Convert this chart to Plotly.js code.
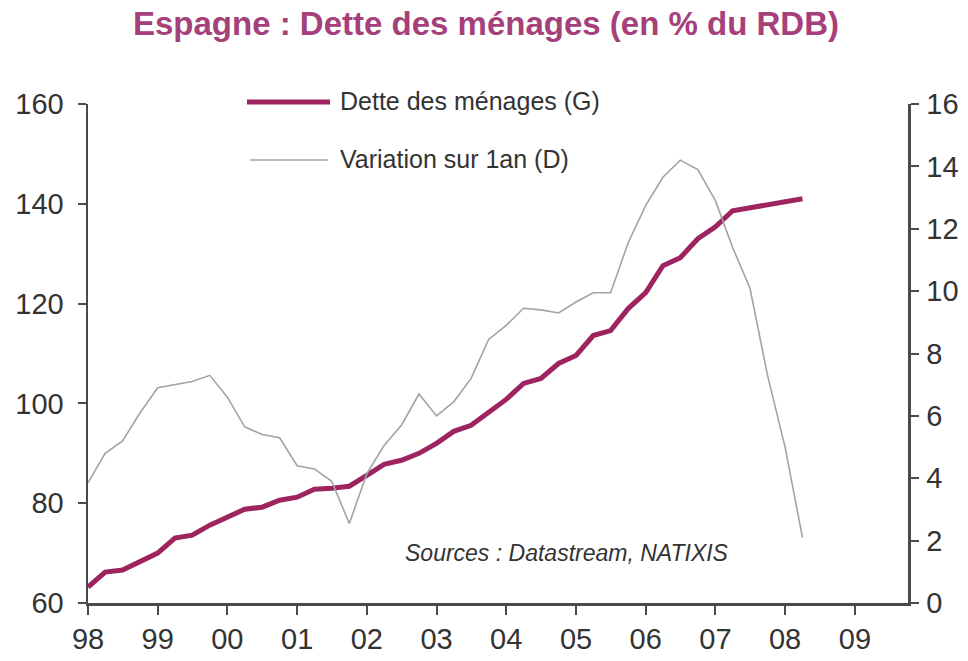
<!DOCTYPE html>
<html>
<head>
<meta charset="utf-8">
<script src="https://cdn.plot.ly/plotly-3.0.1.min.js"></script>
<style>
html,body{margin:0;padding:0;background:#fff;}
#chart{width:968px;height:661px;}
</style>
</head>
<body>
<div id="chart"></div>
<script>
// Quarterly dates 1998Q1 .. 2008Q2
const quarters = [
  "1998-01-01","1998-04-01","1998-07-01","1998-10-01",
  "1999-01-01","1999-04-01","1999-07-01","1999-10-01",
  "2000-01-01","2000-04-01","2000-07-01","2000-10-01",
  "2001-01-01","2001-04-01","2001-07-01","2001-10-01",
  "2002-01-01","2002-04-01","2002-07-01","2002-10-01",
  "2003-01-01","2003-04-01","2003-07-01","2003-10-01",
  "2004-01-01","2004-04-01","2004-07-01","2004-10-01",
  "2005-01-01","2005-04-01","2005-07-01","2005-10-01",
  "2006-01-01","2006-04-01","2006-07-01","2006-10-01",
  "2007-01-01","2007-04-01","2007-07-01","2007-10-01",
  "2008-01-01","2008-04-01"
];

// Dette des ménages, % du RDB (axe gauche)
const detteMenages = [
  63.2, 66.2, 66.6, 68.2,
  70.0, 73.0, 73.6, 75.6,
  77.2, 78.8, 79.2, 80.6,
  81.2, 82.8, 83.0, 83.4,
  85.6, 87.8, 88.6, 90.0,
  92.0, 94.4, 95.6, 98.2,
  100.8, 104.0, 105.0, 108.0,
  109.6, 113.6, 114.6, 119.0,
  122.2, 127.6, 129.2, 133.0,
  135.4, 138.6, 139.2, 139.8,
  140.4, 141.0
];

// Variation sur 1 an (axe droit)
const variation1an = [
  3.85, 4.8, 5.2, 6.1,
  6.9, 7.0, 7.1, 7.3,
  6.6, 5.65, 5.4, 5.3,
  4.4, 4.3, 3.9, 2.55,
  4.15, 5.05, 5.7, 6.7,
  6.0, 6.45, 7.2, 8.45,
  8.9, 9.45, 9.4, 9.3,
  9.65, 9.95, 9.95, 11.55,
  12.75, 13.65, 14.2, 13.9,
  12.9, 11.4, 10.1, 7.3,
  5.0, 2.1
];

const seriesNames = ["Dette des ménages (G)", "Variation sur 1an (D)"];
const titleText = "Espagne : Dette des ménages (en % du RDB)";
const sourceText = "Sources : Datastream, NATIXIS";

const debtColor = "#9E245F";
const varColor = "#A3A3A3";
const axisColor = "#4a4a4a";
const textColor = "#333333";
const fontFam = "Liberation Sans, Arial, sans-serif";

const traces = [
  {
    x: quarters, y: variation1an, name: seriesNames[1], yaxis: "y2",
    type: "scatter", mode: "lines",
    line: {color: varColor, width: 1.6},
    showlegend: false, hoverinfo: "x+y"
  },
  {
    x: quarters, y: detteMenages, name: seriesNames[0], yaxis: "y",
    type: "scatter", mode: "lines",
    line: {color: debtColor, width: 5},
    showlegend: false, hoverinfo: "x+y"
  }
];

const tickFont = {family: fontFam, size: 29, color: textColor};

const layout = {
  width: 968, height: 661,
  paper_bgcolor: "#ffffff", plot_bgcolor: "#ffffff",
  margin: {l: 88, r: 60, t: 104, b: 58},
  showlegend: false,
  title: {
    text: "<b>" + titleText + "</b>",
    font: {family: fontFam, size: 33, color: "#A6407A"},
    x: 486/968, xanchor: "center", xref: "container",
    y: 1 - 23/661, yanchor: "middle", yref: "container"
  },
  xaxis: {
    type: "date",
    range: ["1998-01-01", "2009-10-06"],
    tick0: "1998-01-01", dtick: "M12", tickformat: "%y",
    showgrid: false, zeroline: false,
    showline: true, linecolor: axisColor, linewidth: 2.5,
    ticks: "outside", ticklen: 9, tickwidth: 2, tickcolor: axisColor,
    tickfont: tickFont
  },
  yaxis: {
    range: [60, 160], dtick: 20, tick0: 60,
    showgrid: false, zeroline: false,
    showline: true, linecolor: axisColor, linewidth: 2.5,
    ticks: "outside", ticklen: 8, tickwidth: 2, tickcolor: axisColor,
    tickfont: tickFont, ticklabelstandoff: 8
  },
  yaxis2: {
    range: [0, 16], dtick: 2, tick0: 0,
    overlaying: "y", side: "right",
    showgrid: false, zeroline: false,
    showline: true, linecolor: axisColor, linewidth: 2.5,
    ticks: "outside", ticklen: 8, tickwidth: 2, tickcolor: axisColor,
    tickfont: tickFont, ticklabelstandoff: 2
  },
  shapes: [
    {type: "line", xref: "paper", yref: "paper",
     x0: (247-88)/820, x1: (330-88)/820, y0: (603-102)/499, y1: (603-102)/499,
     line: {color: debtColor, width: 5}},
    {type: "line", xref: "paper", yref: "paper",
     x0: (250-88)/820, x1: (328-88)/820, y0: (603-160)/499, y1: (603-160)/499,
     line: {color: varColor, width: 1.6}}
  ],
  annotations: [
    {xref: "paper", yref: "paper", x: (338-88)/820, y: (603-101)/499,
     xanchor: "left", yanchor: "middle", showarrow: false,
     text: seriesNames[0], font: {family: fontFam, size: 25, color: textColor}},
    {xref: "paper", yref: "paper", x: (338-88)/820, y: (603-159)/499,
     xanchor: "left", yanchor: "middle", showarrow: false,
     text: seriesNames[1], font: {family: fontFam, size: 25, color: textColor}},
    {xref: "paper", yref: "paper", x: (403-88)/820, y: (603-553)/499,
     xanchor: "left", yanchor: "middle", showarrow: false,
     text: "<i>" + sourceText + "</i>", font: {family: fontFam, size: 23, color: textColor}}
  ]
};

Plotly.newPlot("chart", traces, layout, {displayModeBar: false, staticPlot: true});
</script>
</body>
</html>
